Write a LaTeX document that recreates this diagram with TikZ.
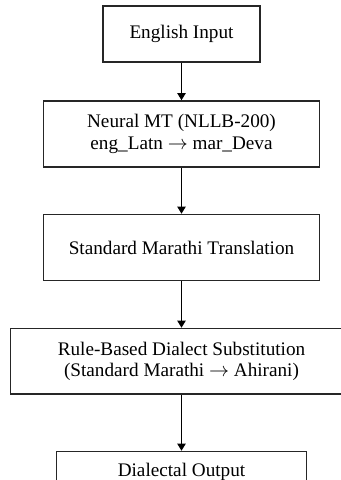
\documentclass[tikz,border=0pt]{standalone}
\usepackage{fontspec}
\setmainfont{Liberation Serif}
\usetikzlibrary{arrows.meta,positioning}
\tikzset{
  flowbox/.style={draw=black!85,line width=0.75pt,align=center,inner sep=0pt,
    font=\fontsize{9.6}{10.6}\selectfont,minimum height=33pt},
  flowarrow/.style={-{Triangle[length=3.6pt,width=4.2pt]},line width=0.7pt}
}
\begin{document}
\begin{tikzpicture}
  % Frame of the page (reference is cut at the right and bottom)
  \clip (0,0) rectangle (170.5pt,-240pt);
  % Pipeline boxes
  \node[flowbox,minimum width=78.5pt,minimum height=28pt] (input) at (90.75pt,-17pt) {English Input};
  \node[flowbox,minimum width=138pt,below=18.75pt of input] (nmt) {Neural MT (NLLB-200)\\eng\_Latn $\rightarrow$ mar\_Deva};
  \node[flowbox,minimum width=138pt,below=23pt of nmt] (stdmr) {Standard Marathi Translation};
  \node[flowbox,minimum width=180pt,minimum height=32.75pt,below=23.25pt of stdmr,xshift=4.5pt] (rules) {\hspace*{-9pt}Rule-Based Dialect Substitution\\\hspace*{-9pt}(Standard Marathi $\rightarrow$ Ahirani)};
  \node[flowbox,minimum width=125pt,minimum height=20pt,below=28pt of stdmr |- rules.south] (output) {Dialectal Output};
  % Arrows
  \draw[flowarrow] (input) -- (nmt);
  \draw[flowarrow] (nmt) -- (stdmr);
  \draw[flowarrow] (stdmr) -- (stdmr |- rules.north);
  \draw[flowarrow] (stdmr |- rules.south) -- (output);
\end{tikzpicture}
\end{document}
